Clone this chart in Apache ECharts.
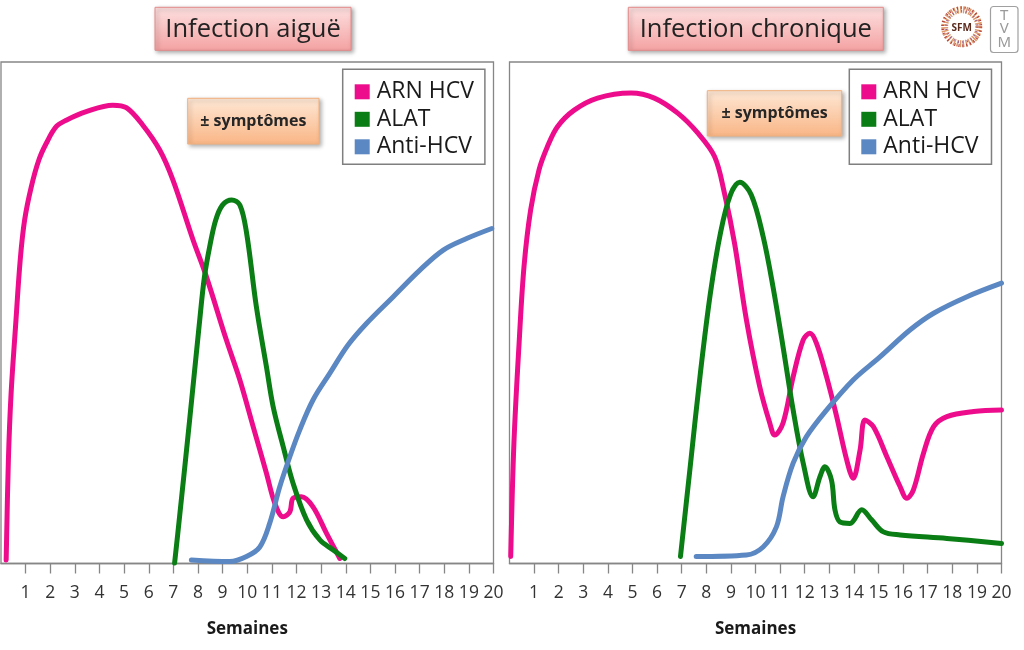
<!DOCTYPE html>
<html>
<head>
<meta charset="utf-8">
<script src="https://cdn.jsdelivr.net/npm/echarts@6/dist/echarts.min.js"></script>
<style>
  html, body { margin: 0; padding: 0; background: #ffffff; }
  #chart { width: 1024px; height: 650px; }
</style>
</head>
<body>
<div id="chart"></div>
<script>
// ---------- data ----------
const weekTicks = [1,2,3,4,5,6,7,8,9,10,11,12,13,14,15,16,17,18,19,20];
const seriesNames = ['ARN HCV', 'ALAT', 'Anti-HCV'];
const panelTitles = ['Infection aiguë', 'Infection chronique'];
const symptomLabel = '± symptômes';
const axisName = 'Semaines';

// Acute infection (weeks, relative level)
const acuteRNA = [[0.21,0.7],[0.30,20.6],[0.41,33.9],[0.59,47.2],[0.78,60.5],[0.96,68.5],[1.23,75.1],[1.54,80.5],[1.84,83.8],[2.24,87.1],[2.65,88.4],[3.46,90.1],[4.54,91.4],[5.09,90.9],[5.76,87.4],[6.44,82.5],[6.98,76.5],[7.80,64.5],[8.34,57.2],[9.15,44.6],[9.70,36.6],[10.24,27.3],[10.78,18.0],[11.12,12.0],[11.46,9.3],[11.73,10.3],[11.86,13.0],[12.2,13.3],[12.67,11.3],[13.22,6.0],[13.76,1.0]];
const acuteALAT = [[7.05,0.1],[7.26,9.7],[7.66,28.6],[8.05,47.6],[8.26,57.1],[8.48,63.3],[8.72,68.5],[9.0,71.5],[9.37,72.5],[9.70,71.5],[9.97,66.0],[10.37,51.2],[10.78,39.2],[11.05,31.3],[11.46,23.3],[11.86,16.0],[12.41,8.7],[12.95,4.7],[13.49,2.7],[13.96,1.0]];
const acuteAnti = [[7.73,0.7],[9.29,0.4],[9.97,1.4],[10.51,3.3],[10.91,8.0],[11.32,15.3],[11.73,21.3],[12.13,26.6],[12.67,32.6],[13.35,37.9],[14.1,43.6],[14.85,47.9],[15.93,53.2],[17.01,58.5],[17.96,62.5],[18.91,64.8],[19.93,66.8]];

// Chronic infection
const chronicRNA = [[0.05,1.4],[0.18,24.0],[0.39,43.9],[0.59,59.2],[0.86,70.5],[1.20,78.5],[1.54,83.1],[1.95,87.1],[2.63,90.4],[3.58,92.8],[4.94,93.8],[5.89,92.8],[6.84,89.8],[7.66,85.8],[8.34,81.1],[8.74,73.8],[9.15,63.8],[9.63,48.6],[10.17,35.3],[10.58,28.0],[10.78,25.6],[11.12,28.0],[11.53,37.2],[11.94,44.6],[12.21,45.9],[12.48,43.9],[12.89,37.2],[13.30,29.3],[13.71,20.6],[13.97,17.0],[14.25,22.6],[14.45,28.6],[14.79,27.3],[15.34,21.3],[15.88,15.3],[16.15,13.0],[16.42,14.7],[16.83,22.0],[17.24,27.3],[17.78,29.3],[18.87,30.3],[20,30.6]];
const chronicALAT = [[6.95,1.4],[7.35,19.5],[7.76,38],[8.17,54],[8.58,66],[8.98,73.5],[9.36,76],[9.83,73.5],[10.31,65.2],[10.71,55.2],[11.12,43.2],[11.53,30.6],[11.94,20.0],[12.34,13.3],[12.62,17.3],[12.82,19.3],[13.09,16.6],[13.23,10.7],[13.43,8.3],[13.84,8.0],[14.32,10.7],[14.72,8.7],[15.20,6.3],[15.88,5.7],[17.78,5.0],[20,4.0]];
const chronicAnti = [[7.59,1.4],[9.63,1.7],[10.31,3.3],[10.85,7.3],[11.12,13.3],[11.53,20.0],[12.07,25.3],[12.89,30.6],[13.97,36.6],[15.06,41.2],[16.29,46.6],[17.24,49.9],[18.60,53.2],[20,55.9]];

// ---------- styles ----------
const colors = ['#ec0c8c', '#0a7d14', '#5b87c2'];
const FONT = '"Open Sans", "Noto Sans", sans-serif';
const gray = '#868686';

const chart = echarts.init(document.getElementById('chart'), null, { renderer: 'canvas' });

function makeXAxis(gridIndex) {
  return {
    type: 'value', gridIndex: gridIndex, min: 0, max: 20, interval: 1,
    name: axisName, nameLocation: 'middle', nameGap: 57,
    nameTextStyle: { fontFamily: FONT, fontSize: 17, fontWeight: 'bold', color: '#1a1a1a' },
    axisLine: { show: true, lineStyle: { color: gray, width: 1.3 } },
    axisTick: { show: true, length: 10, lineStyle: { color: gray, width: 1.3 }, customValues: weekTicks },
    axisLabel: { fontFamily: FONT, fontSize: 17.5, color: '#333333', margin: 21, customValues: weekTicks },
    splitLine: { show: false }
  };
}
function makeYAxis(gridIndex) {
  return { type: 'value', gridIndex: gridIndex, min: 0, max: 100, show: false, splitLine: { show: false } };
}
function makeSeries(name, data, idx, axisIdx) {
  return {
    type: 'line', name: name, data: data, xAxisIndex: axisIdx, yAxisIndex: axisIdx,
    smooth: 0.35, showSymbol: false, symbol: 'none', silent: true,
    lineStyle: { color: colors[idx], width: 5, cap: 'round', join: 'round' },
    itemStyle: { color: colors[idx] },
    z: 3
  };
}
function makeLegend(left) {
  return {
    orient: 'vertical', left: left, top: 69.3,
    data: seriesNames, icon: 'rect', itemWidth: 15, itemHeight: 15, itemGap: 4.5,
    selectedMode: false,
    padding: [11, 11, 6, 12],
    borderColor: '#7f7f7f', borderWidth: 1.5, backgroundColor: '#ffffff',
    textStyle: { fontFamily: FONT, fontSize: 23, lineHeight: 23, color: '#1a1a1a', padding: [0, 0, 0, 2] }
  };
}

function titleBox(x, y, w, h, text) {
  return [
    { type: 'rect', shape: { x: x, y: y, width: w, height: h },
      style: { fill: new echarts.graphic.LinearGradient(0, 0, 0, 1, [
          { offset: 0, color: '#fde0e0' }, { offset: 1, color: '#f4a2a2' }]),
        stroke: '#e48a8a', lineWidth: 1, shadowBlur: 4, shadowOffsetX: 2, shadowOffsetY: 2, shadowColor: 'rgba(0,0,0,0.35)' }, z: 10 },
    { type: 'text', x: x + w / 2, y: y + h / 2 + 0.5,
      style: { text: text, fontFamily: FONT, fontSize: 25.5, fill: '#222222', align: 'center', verticalAlign: 'middle' }, z: 11 }
  ];
}
function symptomBox(x, y, w, h) {
  return [
    { type: 'rect', shape: { x: x, y: y, width: w, height: h },
      style: { fill: new echarts.graphic.LinearGradient(0, 0, 0, 1, [
          { offset: 0, color: '#fee8d6' }, { offset: 1, color: '#f9b585' }]),
        stroke: '#f2b07c', lineWidth: 1, shadowBlur: 4, shadowOffsetX: 2, shadowOffsetY: 2, shadowColor: 'rgba(0,0,0,0.3)' }, z: 10 },
    { type: 'text', x: x + w / 2, y: y + h / 2,
      style: { text: symptomLabel, fontFamily: FONT, fontSize: 16, fontWeight: 'bold', fill: '#262626', align: 'center', verticalAlign: 'middle' }, z: 11 }
  ];
}

const cx = 961.7, cy = 26.7;
const logo = [
  { type: 'circle', shape: { cx: cx, cy: cy, r: 17 }, style: { fill: 'none', stroke: '#df9a6a', lineWidth: 7, lineDash: [1.5, 1.5] }, z: 10 },
  { type: 'circle', shape: { cx: cx, cy: cy, r: 19 }, style: { fill: 'none', stroke: '#b23a3a', lineWidth: 3, lineDash: [1, 3] }, z: 10 },
  { type: 'circle', shape: { cx: cx, cy: cy, r: 15.5 }, style: { fill: 'none', stroke: '#9a5a8a', lineWidth: 2.5, lineDash: [1, 3.5] }, z: 10 },
  { type: 'circle', shape: { cx: cx, cy: cy, r: 13 }, style: { fill: '#ffffff' }, z: 11 },
  { type: 'text', x: cx, y: cy + 1, style: { text: 'SFM', fontFamily: FONT, fontSize: 10, fontWeight: 'bold', fill: '#5b2b1e', align: 'center', verticalAlign: 'middle' }, z: 12 },
  { type: 'rect', shape: { x: 990.5, y: 6.5, width: 27.5, height: 46, r: 3 }, style: { fill: '#ffffff', stroke: '#a0a0a0', lineWidth: 1.2 }, z: 10 },
  { type: 'text', x: 1004.2, y: 15.5, style: { text: 'T', fontFamily: '"Noto Sans", sans-serif', fontSize: 15, fill: '#9a9a9a', align: 'center', verticalAlign: 'middle' }, z: 11 },
  { type: 'text', x: 1004.2, y: 29, style: { text: 'V', fontFamily: '"Noto Sans", sans-serif', fontSize: 15, fill: '#9a9a9a', align: 'center', verticalAlign: 'middle' }, z: 11 },
  { type: 'text', x: 1004.2, y: 42.5, style: { text: 'M', fontFamily: '"Noto Sans", sans-serif', fontSize: 15, fill: '#9a9a9a', align: 'center', verticalAlign: 'middle' }, z: 11 }
];

const option = {
  backgroundColor: '#ffffff',
  animation: false,
  grid: [
    { left: 1, top: 62, width: 492.5, height: 501.5, show: true, borderColor: gray, borderWidth: 1.3, backgroundColor: 'transparent' },
    { left: 509.5, top: 62, width: 492, height: 501.5, show: true, borderColor: gray, borderWidth: 1.3, backgroundColor: 'transparent' }
  ],
  xAxis: [makeXAxis(0), makeXAxis(1)],
  yAxis: [makeYAxis(0), makeYAxis(1)],
  legend: [makeLegend(342.7), makeLegend(849.3)],
  series: [
    makeSeries(seriesNames[0], acuteRNA, 0, 0),
    makeSeries(seriesNames[1], acuteALAT, 1, 0),
    makeSeries(seriesNames[2], acuteAnti, 2, 0),
    makeSeries(seriesNames[0], chronicRNA, 0, 1),
    makeSeries(seriesNames[1], chronicALAT, 1, 1),
    makeSeries(seriesNames[2], chronicAnti, 2, 1)
  ],
  graphic: [].concat(
    titleBox(155, 7.3, 196, 43, panelTitles[0]),
    titleBox(628.3, 7.3, 255, 43, panelTitles[1]),
    symptomBox(187.7, 98.3, 131.3, 45.7),
    symptomBox(707.3, 90.7, 134.4, 45.3),
    logo
  )
};
chart.setOption(option);
</script>
</body>
</html>
